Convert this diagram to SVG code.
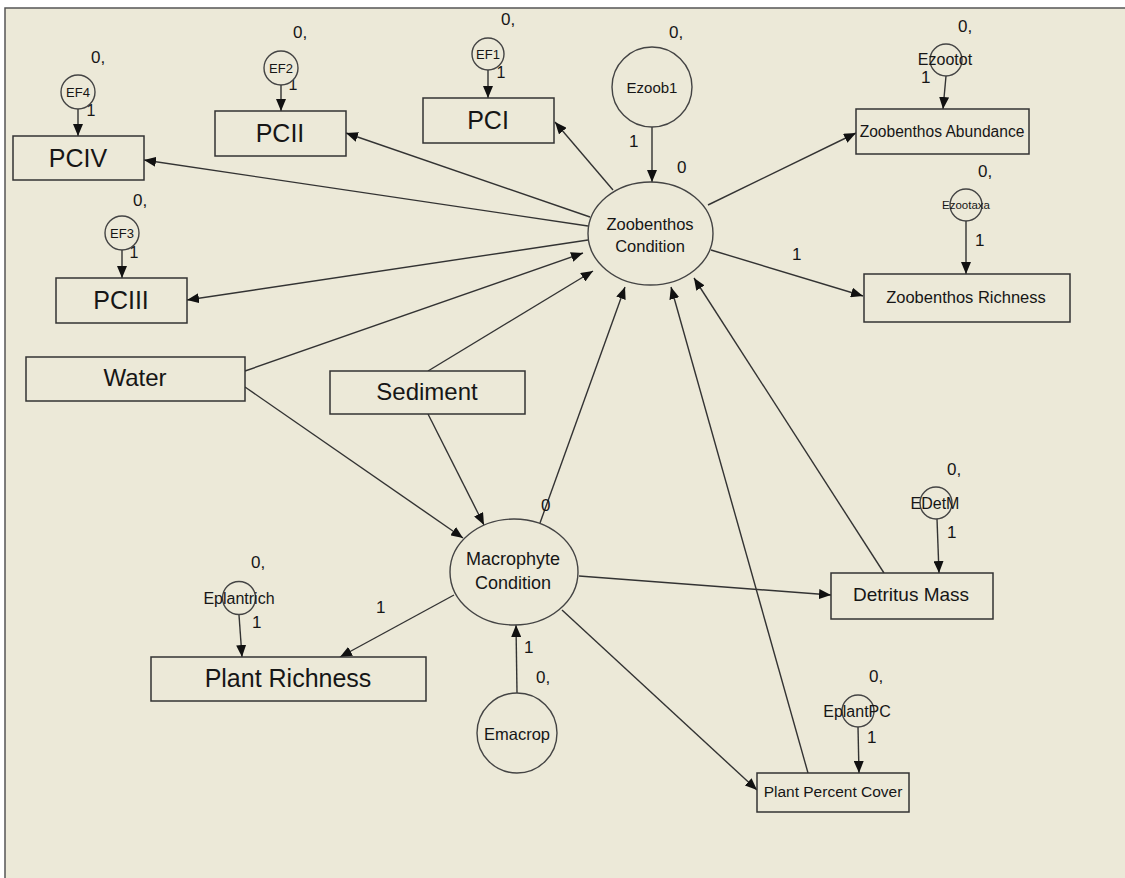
<svg xmlns="http://www.w3.org/2000/svg" width="1125" height="878" viewBox="0 0 1125 878">
<defs>
<marker id="ah" viewBox="0 0 12 10" refX="12" refY="5" markerWidth="12" markerHeight="10" markerUnits="userSpaceOnUse" orient="auto">
<path d="M0,0 L12,5 L0,10 z" fill="#111"/>
</marker>
<style>
text{font-family:"Liberation Sans",Arial,sans-serif;fill:#161616;}
.box{fill:#ECE9D8;stroke:#333;stroke-width:1.5;}
.lat{fill:#ECE9D8;stroke:#444;stroke-width:1.4;}
.big{font-size:25px;text-anchor:middle;}
.mid{font-size:16.5px;text-anchor:middle;}
.err{font-size:13px;text-anchor:middle;}
.lbl{font-size:17px;}
.c{text-anchor:middle;}
#connectors line{stroke:#333;stroke-width:1.4;marker-end:url(#ah);}
</style>
</defs>
<rect x="0" y="0" width="1125" height="878" fill="#fff"/>
<rect x="5" y="8" width="1130" height="880" fill="#ECE9D8" stroke="#555" stroke-width="1.5"/>

<g id="connectors">
<line x1="78" y1="109" x2="78" y2="136"/>
<line x1="281" y1="85" x2="281" y2="111"/>
<line x1="488" y1="70" x2="488" y2="98"/>
<line x1="122" y1="250" x2="122" y2="278"/>
<line x1="652" y1="127" x2="652" y2="182"/>
<line x1="946" y1="76" x2="943" y2="109"/>
<line x1="966" y1="221" x2="966" y2="274"/>
<line x1="937" y1="519" x2="939" y2="573"/>
<line x1="858" y1="727" x2="859" y2="773"/>
<line x1="239" y1="615" x2="242" y2="657"/>
<line x1="517" y1="693" x2="516" y2="625"/>
<line x1="613" y1="190" x2="555" y2="122"/>
<line x1="590" y1="217" x2="346" y2="133"/>
<line x1="588" y1="226" x2="144" y2="160"/>
<line x1="588" y1="240" x2="187" y2="300"/>
<line x1="708" y1="205" x2="856" y2="133"/>
<line x1="711" y1="250" x2="863" y2="296"/>
<line x1="245" y1="371" x2="583" y2="253"/>
<line x1="428" y1="371" x2="593" y2="271"/>
<line x1="540" y1="523" x2="625" y2="287"/>
<line x1="808" y1="773" x2="671" y2="287"/>
<line x1="884" y1="573" x2="694" y2="278"/>
<line x1="245" y1="387" x2="463" y2="538"/>
<line x1="428" y1="414" x2="484" y2="525"/>
<line x1="454" y1="595" x2="340" y2="657"/>
<line x1="579" y1="576" x2="831" y2="595"/>
<line x1="562" y1="610" x2="757" y2="790"/>
</g>

<g id="labels">
<text class="lbl" x="91" y="63">0,</text>
<text class="lbl" x="293" y="38">0,</text>
<text class="lbl" x="501" y="25">0,</text>
<text class="lbl" x="669" y="38">0,</text>
<text class="lbl" x="133" y="206">0,</text>
<text class="lbl" x="958" y="32">0,</text>
<text class="lbl" x="978" y="177">0,</text>
<text class="lbl" x="947" y="475">0,</text>
<text class="lbl" x="869" y="682">0,</text>
<text class="lbl" x="251" y="568">0,</text>
<text class="lbl" x="536" y="683">0,</text>
<text class="lbl" x="629" y="147">1</text>
<text class="lbl" x="677" y="173">0</text>
<text class="lbl" x="921" y="83">1</text>
<text class="lbl" x="975" y="246">1</text>
<text class="lbl" x="792" y="260">1</text>
<text class="lbl" x="541" y="511">0</text>
<text class="lbl" x="376" y="613">1</text>
<text class="lbl" x="524" y="653">1</text>
<text class="lbl" x="252" y="628">1</text>
<text class="lbl" x="947" y="538">1</text>
<text class="lbl" x="867" y="743">1</text>
<text class="lbl c" x="91" y="116" style="font-size:16px">1</text>
<text class="lbl c" x="293" y="90" style="font-size:16px">1</text>
<text class="lbl c" x="501" y="78" style="font-size:16px">1</text>
<text class="lbl c" x="134" y="258" style="font-size:16px">1</text>
</g>

<g id="PCIV"><rect class="box" x="13" y="136" width="131" height="44"/><text class="big" x="78" y="167">PCIV</text></g>
<g id="PCII"><rect class="box" x="215" y="111" width="131" height="45"/><text class="big" x="280" y="142">PCII</text></g>
<g id="PCI"><rect class="box" x="423" y="98" width="131" height="45"/><text class="big" x="488" y="129">PCI</text></g>
<g id="PCIII"><rect class="box" x="56" y="278" width="131" height="45"/><text class="big" x="121" y="309">PCIII</text></g>
<g id="EF4"><circle class="lat" cx="78" cy="92" r="17"/><text class="err" x="78" y="97">EF4</text></g>
<g id="EF2"><circle class="lat" cx="281" cy="68" r="17"/><text class="err" x="281" y="73">EF2</text></g>
<g id="EF1"><circle class="lat" cx="488" cy="54" r="16"/><text class="err" x="488" y="59">EF1</text></g>
<g id="EF3"><circle class="lat" cx="122" cy="233" r="17"/><text class="err" x="122" y="238">EF3</text></g>
<g id="Ezoob1"><circle class="lat" cx="652" cy="87" r="40"/><text class="c" x="652" y="93" style="font-size:15px">Ezoob1</text></g>
<g id="ZoobenthosCondition"><ellipse class="lat" cx="650.5" cy="233.5" rx="62.5" ry="51.5"/><text class="mid" x="650" y="230">Zoobenthos</text><text class="mid" x="650" y="252">Condition</text></g>
<g id="Ezootot"><circle class="lat" cx="946" cy="60" r="16"/><text class="c" x="945" y="65" style="font-size:16px">Ezootot</text></g>
<g id="ZoobenthosAbundance"><rect class="box" x="856" y="109" width="173" height="45"/><text class="c" x="942" y="137" style="font-size:15.6px">Zoobenthos Abundance</text></g>
<g id="Ezootaxa"><circle class="lat" cx="966" cy="205" r="16"/><text class="c" x="966" y="209" style="font-size:11.5px">Ezootaxa</text></g>
<g id="ZoobenthosRichness"><rect class="box" x="864" y="274" width="206" height="48"/><text class="mid" x="966" y="303">Zoobenthos Richness</text></g>
<g id="Water"><rect class="box" x="26" y="357" width="219" height="44"/><text class="c" x="135" y="386" style="font-size:24px">Water</text></g>
<g id="Sediment"><rect class="box" x="330" y="371" width="195" height="43"/><text class="c" x="427" y="400" style="font-size:24px">Sediment</text></g>
<g id="MacrophyteCondition"><ellipse class="lat" cx="514" cy="572" rx="64" ry="53"/><text class="c" x="513" y="565" style="font-size:18px">Macrophyte</text><text class="c" x="513" y="589" style="font-size:18px">Condition</text></g>
<g id="Eplantrich"><circle class="lat" cx="239" cy="598" r="16.5"/><text class="c" x="239" y="604" style="font-size:16px">Eplantrich</text></g>
<g id="PlantRichness"><rect class="box" x="151" y="657" width="275" height="44"/><text class="c" x="288" y="687" style="font-size:25px">Plant Richness</text></g>
<g id="Emacrop"><circle class="lat" cx="517" cy="733" r="40"/><text class="c" x="517" y="740" style="font-size:16.5px">Emacrop</text></g>
<g id="EDetM"><circle class="lat" cx="936" cy="503" r="16"/><text class="c" x="935" y="509" style="font-size:16px">EDetM</text></g>
<g id="DetritusMass"><rect class="box" x="831" y="573" width="162" height="46"/><text class="c" x="911" y="601" style="font-size:19px">Detritus Mass</text></g>
<g id="EplantPC"><circle class="lat" cx="858" cy="711" r="16"/><text class="c" x="857" y="717" style="font-size:16px">EplantPC</text></g>
<g id="PlantPercentCover"><rect class="box" x="757" y="773" width="152" height="39"/><text class="c" x="833" y="797" style="font-size:15.5px">Plant Percent Cover</text></g>
</svg>
